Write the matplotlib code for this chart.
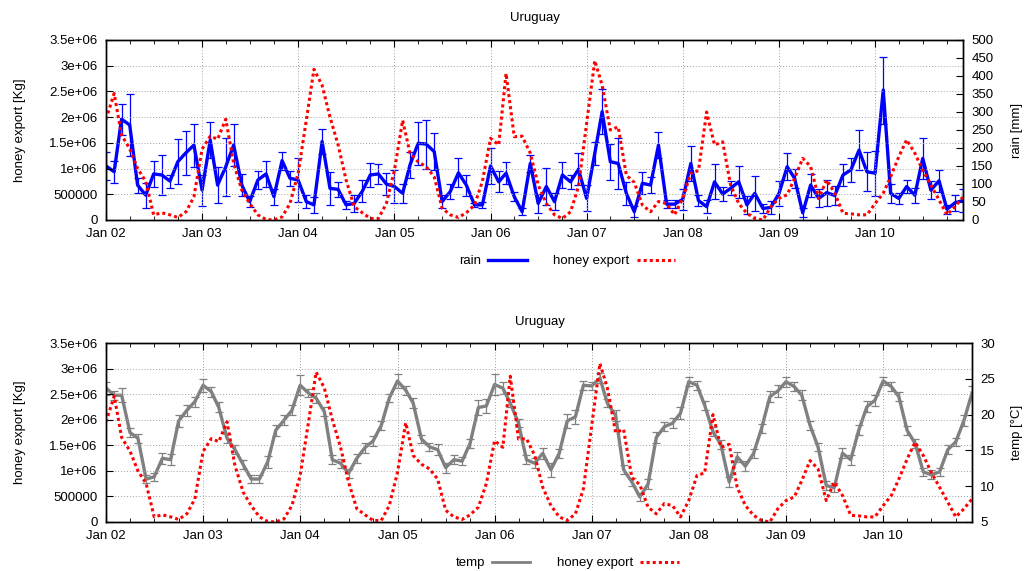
import pandas as pd
import numpy as np
import matplotlib
matplotlib.use("Agg")
import matplotlib.pyplot as plt
import matplotlib.dates as mdates

plt.rcParams['font.family'] = ['Liberation Sans', 'DejaVu Sans']
plt.rcParams['font.size'] = 9.5

# monthly values, Jan 2002 .. Dec 2010
months = pd.date_range("2002-01-01", periods=108, freq="MS")

rain = [150, 134, 280, 264, 97, 69, 128, 125, 108, 162, 187, 208,
        83, 222, 97, 148, 208, 97, 51, 111, 128, 65, 165, 116,
        111, 51, 42, 218, 88, 85, 42, 46, 80, 125, 128, 100,
        93, 74, 153, 213, 211, 190, 51, 79, 131, 97, 42, 42,
        150, 106, 130, 65, 23, 157, 46, 93, 51, 125, 106, 141,
        60, 185, 301, 162, 157, 74, 23, 102, 97, 208, 44, 44,
        57, 157, 54, 37, 106, 72, 88, 106, 42, 74, 32, 35,
        74, 148, 116, 20, 97, 60, 76, 68, 125, 139, 194, 134,
        130, 361, 74, 60, 93, 69, 171, 83, 109, 30, 48, 54]

rain_err = [39, 30, 43, 86, 21, 35, 37, 55, 18, 62, 61, 60,
            43, 51, 50, 80, 59, 30, 15, 25, 36, 22, 25, 21,
            60, 18, 23, 36, 46, 20, 12, 23, 30, 32, 27, 31,
            47, 27, 35, 59, 68, 52, 18, 22, 40, 29, 6, 8,
            50, 29, 30, 12, 9, 23, 27, 51, 23, 37, 20, 45,
            36, 32, 63, 50, 70, 32, 16, 30, 23, 36, 12, 12,
            29, 49, 16, 18, 49, 19, 19, 45, 25, 49, 12, 17,
            34, 38, 26, 12, 32, 25, 36, 26, 31, 33, 56, 54,
            63, 93, 26, 15, 19, 21, 56, 25, 31, 12, 22, 33]

honey = [1.96e6, 2.46e6, 1.65e6, 1.39e6, 1.00e6, 0.75e6, 0.10e6, 0.14e6, 0.10e6, 0.05e6, 0.16e6, 0.45e6,
         1.38e6, 1.63e6, 1.57e6, 1.96e6, 1.10e6, 0.58e6, 0.32e6, 0.10e6, 0.01e6, 0.00e6, 0.06e6, 0.32e6,
         0.91e6, 1.94e6, 2.93e6, 2.62e6, 2.00e6, 1.46e6, 0.78e6, 0.26e6, 0.14e6, 0.03e6, 0.03e6, 0.32e6,
         0.97e6, 1.94e6, 1.30e6, 1.13e6, 1.04e6, 0.84e6, 0.23e6, 0.10e6, 0.05e6, 0.14e6, 0.29e6, 0.75e6,
         1.59e6, 1.46e6, 2.85e6, 1.62e6, 1.63e6, 1.30e6, 0.68e6, 0.32e6, 0.10e6, 0.03e6, 0.16e6, 0.65e6,
         1.88e6, 3.10e6, 2.62e6, 1.75e6, 1.81e6, 0.87e6, 0.73e6, 0.29e6, 0.16e6, 0.36e6, 0.32e6, 0.10e6,
         0.42e6, 0.91e6, 0.96e6, 2.10e6, 1.46e6, 1.52e6, 0.68e6, 0.32e6, 0.13e6, 0.03e6, 0.00e6, 0.26e6,
         0.42e6, 0.49e6, 0.81e6, 1.20e6, 1.04e6, 0.42e6, 0.78e6, 0.52e6, 0.13e6, 0.12e6, 0.10e6, 0.10e6,
         0.32e6, 0.52e6, 0.84e6, 1.23e6, 1.56e6, 1.30e6, 0.97e6, 0.68e6, 0.39e6, 0.10e6, 0.26e6, 0.45e6]

temp = [23.7, 22.7, 22.7, 17.5, 16.7, 11.0, 11.3, 13.9, 13.7, 19.1, 20.6, 21.8,
        24.1, 23.2, 21.0, 16.7, 15.1, 13.0, 11.0, 11.0, 13.4, 17.8, 19.2, 20.6,
        24.1, 23.0, 22.3, 20.4, 13.7, 13.2, 11.8, 13.9, 15.4, 16.3, 18.5, 22.3,
        24.7, 23.4, 21.6, 16.6, 15.5, 15.1, 12.6, 13.7, 13.5, 16.0, 21.0, 21.2,
        24.2, 23.7, 21.6, 18.8, 13.7, 13.2, 14.6, 12.3, 14.6, 19.1, 19.7, 24.1,
        24.0, 25.1, 21.6, 19.9, 12.3, 10.6, 8.5, 10.3, 16.8, 18.3, 18.8, 20.2,
        24.6, 24.1, 21.3, 17.6, 15.8, 10.6, 14.1, 12.8, 14.6, 18.1, 22.5, 23.3,
        24.6, 23.9, 22.7, 18.5, 15.5, 10.1, 9.8, 14.6, 13.7, 17.8, 21.1, 22.0,
        24.7, 23.9, 22.5, 17.8, 16.0, 12.0, 11.6, 12.0, 15.1, 16.2, 19.2, 23.0]

temp_err = [0.9, 0.6, 1.0, 0.6, 0.6, 0.6, 0.6, 0.8, 0.8, 0.9, 0.8, 0.7,
            0.9, 0.7, 0.7, 0.6, 0.6, 0.6, 0.6, 0.6, 0.8, 0.8, 0.7, 0.7,
            1.4, 0.6, 0.7, 0.6, 0.6, 0.6, 0.6, 0.6, 0.7, 0.7, 0.6, 0.6,
            1.0, 0.6, 0.7, 0.6, 0.6, 0.8, 0.7, 0.6, 0.6, 0.6, 1.0, 1.0,
            1.5, 0.8, 0.6, 0.6, 0.6, 0.7, 0.8, 1.0, 0.6, 1.0, 1.0, 0.6,
            0.6, 0.7, 0.6, 0.8, 0.6, 0.6, 0.6, 0.7, 0.8, 0.6, 0.7, 0.8,
            0.6, 0.6, 0.6, 0.6, 0.6, 0.7, 0.7, 0.7, 0.6, 0.6, 0.8, 0.9,
            0.7, 0.6, 0.7, 0.6, 0.6, 0.6, 0.6, 0.7, 0.7, 0.7, 0.8, 0.8,
            0.6, 0.6, 0.6, 0.6, 0.6, 0.6, 0.6, 0.6, 0.6, 0.6, 0.8, 1.0]

honey_ticks = [0, 500000, 1e6, 1.5e6, 2e6, 2.5e6, 3e6, 3.5e6]
honey_labels = ["0", "500000", "1e+06", "1.5e+06", "2e+06", "2.5e+06", "3e+06", "3.5e+06"]
rain_ticks = list(range(0, 501, 50))
temp_ticks = [5, 10, 15, 20, 25, 30]

W, H = 1027, 571
fig = plt.figure(figsize=(W / 100, H / 100), dpi=100)


def style_axes(ax, ax2):
    ax.set_xlim(months[0], months[-1])
    ax.set_ylim(0, 3.5e6)
    ax.set_yticks(honey_ticks, honey_labels)
    ax.xaxis.set_major_locator(mdates.YearLocator())
    ax.xaxis.set_minor_locator(mdates.MonthLocator(bymonth=[4, 7, 10]))
    ax.xaxis.set_major_formatter(mdates.DateFormatter("%b %y"))
    ax.tick_params(axis="x", which="both", direction="in", top=True, pad=6)
    ax.tick_params(axis="x", which="major", length=5)
    ax.tick_params(axis="x", which="minor", length=3)
    ax.tick_params(axis="y", direction="in", right=False, length=5, pad=6)
    ax.grid(True, which="major", color="#a0a0a0", linestyle=(0, (1, 2)), linewidth=0.7)
    ax2.tick_params(axis="y", direction="in", length=5, pad=6)
    for a in (ax, ax2):
        for s in a.spines.values():
            s.set_linewidth(1.0)
    ax.set_zorder(ax2.get_zorder() + 1)
    ax.patch.set_visible(False)


legend_opts = dict(loc="center", ncol=2, frameon=False, markerfirst=False,
                   handlelength=2.9, handletextpad=0.55, columnspacing=2.0)

# ---- top: rain ----
ax = fig.add_axes([106 / W, 1 - 220 / H, (963 - 106) / W, 180 / H])
ax2 = ax.twinx()
ax2.errorbar(months, rain, yerr=rain_err, color="#0000ff", lw=2.4, elinewidth=0.9,
             capsize=3, capthick=0.9, label="rain")
ax.plot(months, honey, color="#ff0000", lw=2.2, linestyle=(0, (1, 1)), label="honey export")
ax2.set_ylim(0, 500)
ax2.set_yticks(rain_ticks)
style_axes(ax, ax2)
fig.text(535 / W, 1 - 18 / H, "Uruguay", ha="center", va="center")
fig.text(20 / W, 1 - 130 / H, "honey export [Kg]", rotation=90, ha="center", va="center")
fig.text(1017 / W, 1 - 130 / H, "rain [mm]", rotation=90, ha="center", va="center")

h2, l2 = ax.get_legend_handles_labels()
h1 = [plt.Line2D([], [], color="#0000ff", lw=2.4)]
fig.legend(h1 + h2, ["rain"] + l2, bbox_to_anchor=(567 / W, 1 - 261 / H), **legend_opts)

# ---- bottom: temperature ----
bx = fig.add_axes([106 / W, 1 - 522 / H, (972 - 106) / W, 179 / H])
bx2 = bx.twinx()
bx2.errorbar(months, temp, yerr=temp_err, color="#808080", lw=2.4, elinewidth=0.9,
             capsize=3, capthick=0.9, label="temp")
bx.plot(months, honey, color="#ff0000", lw=2.2, linestyle=(0, (1, 1)), label="honey export")
bx2.set_ylim(5, 30)
bx2.set_yticks(temp_ticks)
style_axes(bx, bx2)
fig.text(540 / W, 1 - 322 / H, "Uruguay", ha="center", va="center")
fig.text(20 / W, 1 - 432 / H, "honey export [Kg]", rotation=90, ha="center", va="center")
fig.text(1017 / W, 1 - 432 / H, "temp [°C]", rotation=90, ha="center", va="center")

g1 = [plt.Line2D([], [], color="#808080", lw=2.0)]
g2, m2 = bx.get_legend_handles_labels()
fig.legend(g1 + g2, ["temp"] + m2, bbox_to_anchor=(567 / W, 1 - 563 / H), **legend_opts)

fig.savefig("out.png", dpi=100)
